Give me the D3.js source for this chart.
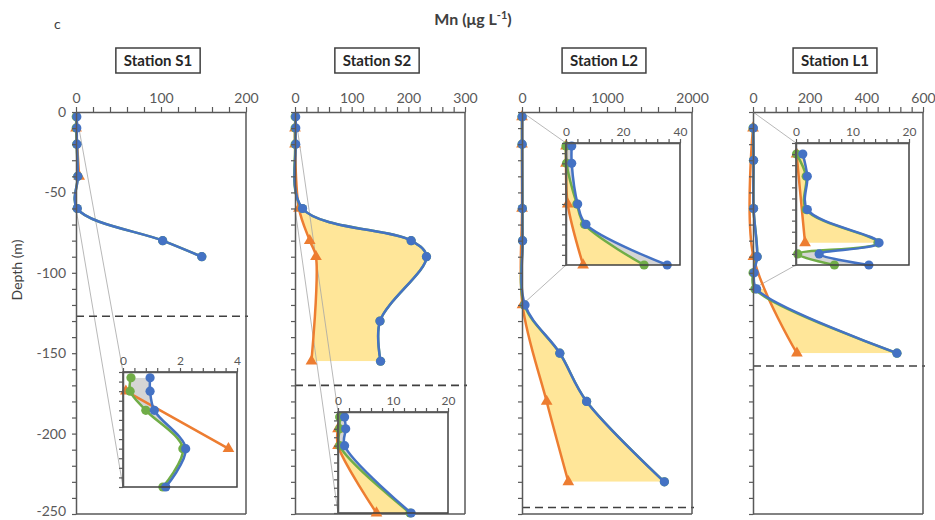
<!DOCTYPE html>
<html><head><meta charset="utf-8">
<script src="https://cdn.jsdelivr.net/npm/d3@7"></script>
<style>
body{margin:0;background:#fff;}
text{font-family:Lato,"Open Sans","Liberation Sans",sans-serif;}
</style>
</head><body>
<svg id="chart" width="935" height="520"></svg>
<script>
// ---------------- DATA ----------------
const stations = ["Station S1", "Station S2", "Station L2", "Station L1"];
const xMax = [200, 300, 2000, 600];
const xTickStep = [20, 20, 200, 40];
const xLabelStep = [100, 100, 1000, 200];
const depthTicks = [0, -50, -100, -150, -200, -250];
const bottomDepth = [-127, -170, -246, -158];

// Station S1
const s1Depth = [-3, -10, -20, -40, -60, -80, -90];
const s1Blue = [0.95, 0.95, 1.1, 2.2, 1.5, 102, 148];
const s1Green = [0.28, 0.25, 0.8, 2.1, 1.4, 102, 148];
const s1OrangeDepth = [-10, -40];
const s1Orange = [0.1, 3.7];

// Station S2
const s2Depth = [-3, -10, -20, -60, -80, -90, -130, -155];
const s2Blue = [1.2, 1.4, 1.2, 13.3, 205, 232, 150, 151];
const s2Green = [0.3, 0.3, 0.3, 13.1, 205, 232, 150, 151];
const s2OrangeDepth = [-10, -20, -60, -80, -90, -155];
const s2Orange = [0, 0, 7, 26, 37, 29];

// Station L2
const l2Depth = [-3, -20, -60, -80, -120, -150, -180, -230];
const l2Blue = [2, 2, 4.1, 7, 35.5, 445, 760, 1675];
const l2Green = [0, 0.2, 3.8, 6.5, 27.4, 445, 760, 1675];
const l2OrangeDepth = [-3, -20, -60, -120, -180, -230];
const l2Orange = [0, 0, 0.6, 6, 290, 545];

// Station L1
const l1Depth = [-10, -30, -60, -90, -100, -110, -150];
const l1Blue = [1.2, 2.0, 2.0, 14.7, 4.1, 12.9, 508];
const l1Green = [0.1, 1.8, 1.8, 14.5, 0.3, 6.8, 508];
const l1OrangeDepth = [-10, -90, -150];
const l1Orange = [0.1, 1.6, 155];

// Inset (zoom) panels
const insetXMax = [4, 20, 40, 20];
const insetDepthMin = [-60, -60, -120, -110];
const insetXTickStep = [0.4, 2, 4, 2];
const insetXLabelStep = [2, 10, 20, 10];
const insetYTickStep = [5, 5, 10, 10];

// Shaded areas between two series, limited to a depth band
const fills = [
  {st: 0, inset: true,  a: "blue", b: "green",  band: [-3, -60],    kind: "grey"},
  {st: 1, inset: false, a: "blue", b: "orange", band: [-60, -155],  kind: "yellow"},
  {st: 1, inset: true,  a: "blue", b: "orange", band: [-3, -60],    kind: "yellow"},
  {st: 1, inset: true,  a: "blue", b: "green",  band: [-3, -60],    kind: "grey"},
  {st: 2, inset: false, a: "blue", b: "orange", band: [-120, -230], kind: "yellow"},
  {st: 2, inset: true,  a: "blue", b: "orange", band: [-3, -120],   kind: "yellow"},
  {st: 2, inset: true,  a: "blue", b: "green",  band: [-3, -120],   kind: "grey"},
  {st: 3, inset: false, a: "blue", b: "orange", band: [-110, -150], kind: "yellow"},
  {st: 3, inset: true,  a: "blue", b: "orange", band: [-10, -90],   kind: "yellow"},
  {st: 3, inset: true,  a: "blue", b: "green",  band: [-90, -110],  kind: "grey"}
];

// ---------------- BUILD ----------------
function zip(ds, vs) { return ds.map((d, i) => ({d: d, v: vs[i]})); }
const series = [
  {blue: zip(s1Depth, s1Blue), green: zip(s1Depth, s1Green), orange: zip(s1OrangeDepth, s1Orange)},
  {blue: zip(s2Depth, s2Blue), green: zip(s2Depth, s2Green), orange: zip(s2OrangeDepth, s2Orange)},
  {blue: zip(l2Depth, l2Blue), green: zip(l2Depth, l2Green), orange: zip(l2OrangeDepth, l2Orange)},
  {blue: zip(l1Depth, l1Blue), green: zip(l1Depth, l1Green), orange: zip(l1OrangeDepth, l1Orange)}
];

// ---------------- LAYOUT / STYLE ----------------
const colors = {blue: "#4472C4", orange: "#ED7D31", green: "#70AD47"};
const fillColors = {yellow: "#FFE699", grey: "#D5D5D5"};
const axisColor = "#595959";
const textColor = "#595959";
const panelLeft = [76, 295, 522, 753];
const panelWidth = 170;
const plotTop = 112, plotBottom = 514;
const insetBox = [
  {l: 123, t: 372, r: 237, b: 487},
  {l: 338, t: 412, r: 448, b: 513},
  {l: 566, t: 143, r: 680, b: 265},
  {l: 796, t: 143, r: 909, b: 265}
];

const svg = d3.select("#chart");
const defs = svg.append("defs");
const mainCurve = d3.curveCatmullRom.alpha(0.5);
const insetCurve = d3.curveCatmullRom.alpha(0.5);
let clipId = 0;

const y = d3.scaleLinear().domain([0, -250]).range([plotTop, plotBottom]);

function stepRange(max, step) {
  const n = Math.round(max / step);
  return d3.range(0, n + 1).map(i => +(i * step).toFixed(6));
}
function isMultiple(v, step) { return Math.abs(v / step - Math.round(v / step)) < 1e-6; }

function pathFor(pts, xs, ys, curve) {
  if (pts.length === 1) return "M" + xs(pts[0].v) + "," + ys(pts[0].d);
  return d3.line().x(p => xs(p.v)).y(p => ys(p.d)).curve(curve)(pts);
}
function fillPath(A, B, xs, ys, curve) {
  const a = pathFor(A, xs, ys, curve);
  const b = pathFor(B.slice().reverse(), xs, ys, curve);
  return a + "L" + b.slice(1) + "Z";
}

function drawFill(g, f, ser, xs, ys, filterFn, curve) {
  const id = "clip" + (clipId++);
  const y0 = ys(f.band[0]), y1 = ys(f.band[1]);
  defs.append("clipPath").attr("id", id).append("rect")
    .attr("x", 0).attr("width", 935).attr("y", Math.min(y0, y1)).attr("height", Math.abs(y1 - y0));
  g.append("path").attr("d", fillPath(ser[f.a].filter(filterFn), ser[f.b].filter(filterFn), xs, ys, curve))
    .attr("fill", fillColors[f.kind]).attr("stroke", "none").attr("clip-path", `url(#${id})`);
}

function drawSeries(g, ser, xs, ys, filterFn, lw, mr, curve) {
  ["orange", "green", "blue"].forEach(k => {
    const pts = ser[k].filter(filterFn);
    if (!pts.length) return;
    g.append("path").attr("d", pathFor(pts, xs, ys, curve))
      .attr("fill", "none").attr("stroke", colors[k]).attr("stroke-width", lw)
      .attr("stroke-linejoin", "round").attr("stroke-linecap", "round");
    if (k === "orange") {
      g.selectAll(null).data(pts).enter().append("path")
        .attr("d", d3.symbol().type(d3.symbolTriangle).size(mr * mr * 2.8)())
        .attr("transform", p => `translate(${xs(p.v)},${ys(p.d)})`)
        .attr("fill", colors[k]);
    } else {
      g.selectAll(null).data(pts).enter().append("circle")
        .attr("cx", p => xs(p.v)).attr("cy", p => ys(p.d)).attr("r", mr)
        .attr("fill", colors[k]);
    }
  });
}

function styleAxis(g, labelSize) {
  g.select(".domain").attr("stroke", axisColor).attr("stroke-width", 1.5);
  g.selectAll(".tick line").attr("stroke", axisColor).attr("stroke-width", 1.2);
  g.selectAll(".tick text").attr("fill", textColor).style("font-size", labelSize + "px")
    .style("font-family", "Lato, 'Open Sans', sans-serif");
}

// Title
svg.append("text").attr("x", 54).attr("y", 29).attr("fill", "#404040")
  .style("font-size", "14px").text("c");
const title = svg.append("text").attr("x", 473).attr("y", 25).attr("text-anchor", "middle")
  .attr("fill", "#404040").style("font-size", "16px").style("font-weight", "bold");
title.append("tspan").text("Mn (μg L");
title.append("tspan").attr("dy", -6).style("font-size", "11px").text("-1");
title.append("tspan").attr("dy", 6).text(")");

// Y axis title
svg.append("text").attr("transform", "translate(22,270) rotate(-90)")
  .attr("text-anchor", "middle").attr("fill", "#404040").style("font-size", "14px").text("Depth (m)");

stations.forEach((name, i) => {
  const x0 = panelLeft[i], x1 = x0 + panelWidth;
  const x = d3.scaleLinear().domain([0, xMax[i]]).range([x0, x1]);
  const g = svg.append("g");
  const ser = series[i];
  const all = () => true;

  // station title box
  const cx = (x0 + x1) / 2 - 3;
  const tt = g.append("text").attr("x", cx).attr("y", 66).attr("text-anchor", "middle")
    .attr("fill", "#262626").style("font-size", "15px").style("font-weight", "bold").text(name);
  const w = tt.node().getComputedTextLength() + 16;
  g.insert("rect", "text").attr("x", cx - w / 2).attr("y", 48).attr("width", w).attr("height", 25)
    .attr("fill", "#fff").attr("stroke", "#404040").attr("stroke-width", 1.5);

  // main fills
  fills.filter(f => f.st === i && !f.inset).forEach(f => drawFill(g, f, ser, x, y, all, mainCurve));

  // connector lines to inset
  const ib = insetBox[i];
  [[0, ib.t], [insetDepthMin[i], ib.b]].forEach(([d, yy]) => {
    g.append("line").attr("x1", x(0)).attr("y1", y(d)).attr("x2", ib.l).attr("y2", yy)
      .attr("stroke", "#a6a6a6").attr("stroke-width", 0.8);
  });

  // main lines
  drawSeries(g, ser, x, y, all, 2.5, 4.6, mainCurve);

  // bottom dashed line
  g.append("line").attr("x1", x0).attr("x2", x1 + 2).attr("y1", y(bottomDepth[i])).attr("y2", y(bottomDepth[i]))
    .attr("stroke", "#404040").attr("stroke-width", 1.6).attr("stroke-dasharray", "8,5");

  // axes
  const top = g.append("g").attr("transform", `translate(0,${plotTop})`)
    .call(d3.axisTop(x).tickValues(stepRange(xMax[i], xTickStep[i])).tickSize(5).tickSizeOuter(0)
      .tickPadding(4).tickFormat(v => isMultiple(v, xLabelStep[i]) ? String(v) : ""));
  styleAxis(top, 14);
  const left = g.append("g").attr("transform", `translate(${x0},0)`)
    .call(d3.axisLeft(y).tickValues(d3.range(0, -251, -10)).tickSize(4).tickSizeOuter(0).tickPadding(6)
      .tickFormat(v => (i === 0 && depthTicks.includes(v)) ? String(v) : ""));
  styleAxis(left, 14);
  left.selectAll(".tick text").filter(v => v === -250).attr("dy", "0.1em");
  g.append("line").attr("x1", x1).attr("x2", x1).attr("y1", plotTop).attr("y2", plotBottom)
    .attr("stroke", axisColor).attr("stroke-width", 1.5);
  g.append("line").attr("x1", x0).attr("x2", x1).attr("y1", plotBottom).attr("y2", plotBottom)
    .attr("stroke", axisColor).attr("stroke-width", 1.5);

  // ---- inset ----
  const xi = d3.scaleLinear().domain([0, insetXMax[i]]).range([ib.l, ib.r]);
  const yi = d3.scaleLinear().domain([0, insetDepthMin[i]]).range([ib.t, ib.b]);
  const inInset = p => p.d >= insetDepthMin[i] - 1e-9;
  const gi = svg.append("g");
  gi.append("rect").attr("x", ib.l).attr("y", ib.t).attr("width", ib.r - ib.l).attr("height", ib.b - ib.t)
    .attr("fill", "#fff");
  fills.filter(f => f.st === i && f.inset).forEach(f => drawFill(gi, f, ser, xi, yi, inInset, insetCurve));
  drawSeries(gi, ser, xi, yi, inInset, 2.5, 4.6, insetCurve);
  gi.append("rect").attr("x", ib.l).attr("y", ib.t).attr("width", ib.r - ib.l).attr("height", ib.b - ib.t)
    .attr("fill", "none").attr("stroke", "#404040").attr("stroke-width", 1.5);
  const it = gi.append("g").attr("transform", `translate(0,${ib.t})`)
    .call(d3.axisTop(xi).tickValues(stepRange(insetXMax[i], insetXTickStep[i])).tickSize(4).tickSizeOuter(0)
      .tickPadding(3).tickFormat(v => isMultiple(v, insetXLabelStep[i]) ? String(v) : ""));
  styleAxis(it, 12);
  const il = gi.append("g").attr("transform", `translate(${ib.l},0)`)
    .call(d3.axisLeft(yi).tickValues(d3.range(0, insetDepthMin[i] - 0.001, -insetYTickStep[i]))
      .tickSize(4).tickSizeOuter(0).tickFormat(""));
  styleAxis(il, 12);
});
</script>
</body></html>
